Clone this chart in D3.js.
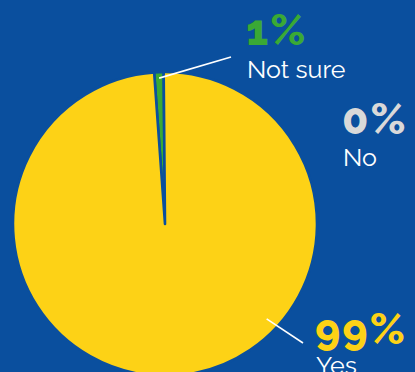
<!DOCTYPE html>
<html>
<head>
<meta charset="utf-8">
<script src="https://cdn.jsdelivr.net/npm/d3@7"></script>
<style>
  html, body { margin: 0; padding: 0; background: #0a4f9e; }
  svg { display: block; }
</style>
</head>
<body>
<svg id="chart" width="415" height="372"></svg>
<script>
// Survey answers, in percent
const categories = ["Not sure", "Yes", "No"];
const values = [1, 99, 0];
const percentLabels = ["1%", "99%", "0%"];
const sliceColors = ["#3aa935", "#fdd216", "#0a4f9e"];
const percentColors = ["#3aa935", "#fdd216", "#d9d9d9"];

const W = 415, H = 372;
const bg = "#0a4f9e";
const cx = 165, cy = 224, radius = 152;

const svg = d3.select("#chart");
svg.append("rect").attr("width", W).attr("height", H).attr("fill", bg);

// Rotate so the small slice sits just left of twelve o'clock
const offset = -4.1 * Math.PI / 180;
const pie = d3.pie().sort(null).value(d => d)
  .startAngle(offset).endAngle(offset + 2 * Math.PI);
const arcs = pie(values);
const arc = d3.arc().innerRadius(0).outerRadius(radius);

const g = svg.append("g").attr("transform", `translate(${cx},${cy})`);
g.selectAll("path.slice")
  .data(arcs.filter(a => a.value > 0))
  .join("path")
  .attr("class", "slice")
  .attr("d", arc)
  .attr("fill", d => sliceColors[d.index])
  .attr("stroke", bg)
  .attr("stroke-width", 2.6)
  .attr("stroke-linejoin", "round");

// polar helper (angle measured clockwise from 12 o'clock)
const polar = (ang, r) => [cx + r * Math.sin(ang), cy - r * Math.cos(ang)];

// Leader lines
const notSure = arcs[0];
const nsMid = (notSure.startAngle + notSure.endAngle) / 2;
const nsA = polar(nsMid, 146);
const yesA = polar(133 * Math.PI / 180, 139);
const leaders = [
  [nsA, [231, 57]],
  [yesA, [303, 343]]
];
svg.selectAll("line.leader")
  .data(leaders)
  .join("line")
  .attr("class", "leader")
  .attr("x1", d => d[0][0]).attr("y1", d => d[0][1])
  .attr("x2", d => d[1][0]).attr("y2", d => d[1][1])
  .attr("stroke", "#ffffff")
  .attr("stroke-width", 1.6);

// Labels: percentage on top, answer below
const labelPos = [
  { x: 246, y: 45, ly: 78 },   // Not sure
  { x: 315, y: 344, ly: 374 }, // Yes
  { x: 342, y: 134, ly: 166 }  // No
];
const font = "Raleway, Lato, 'Open Sans', sans-serif";
const lab = svg.selectAll("g.lab")
  .data(categories)
  .join("g")
  .attr("class", "lab");
lab.append("text")
  .attr("x", (d, i) => labelPos[i].x)
  .attr("y", (d, i) => labelPos[i].y)
  .attr("fill", (d, i) => percentColors[i])
  .attr("font-family", font)
  .attr("font-weight", 800)
  .attr("font-size", 43)
  .attr("letter-spacing", 2)
  .text((d, i) => percentLabels[i]);
lab.append("text")
  .attr("x", (d, i) => labelPos[i].x + 1)
  .attr("y", (d, i) => labelPos[i].ly)
  .attr("fill", "#ffffff")
  .attr("font-family", font)
  .attr("font-size", 25)
  .text(d => d);
</script>
</body>
</html>
